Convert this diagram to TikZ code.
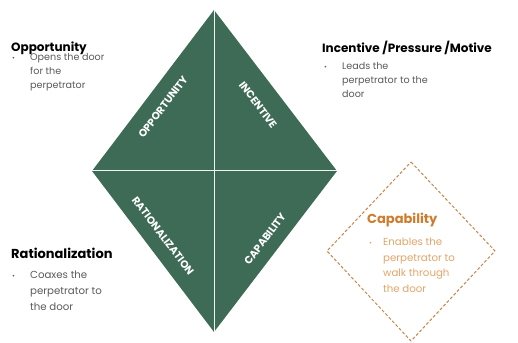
\documentclass[tikz,border=0pt]{standalone}
\usepackage{fontspec}
\setmainfont{Poppins}
\definecolor{fraudgreen}{HTML}{3E6B56}
\definecolor{capdash}{HTML}{C98548}
\definecolor{caphead}{HTML}{D07B2C}
\definecolor{captext}{HTML}{E3A468}
\definecolor{bodygray}{HTML}{5A5A5A}

\tikzset{
  heading/.style={anchor=base west, inner sep=0pt, font=\fontsize{12}{14}\selectfont\bfseries},
  bigheading/.style={heading, font=\fontsize{13}{15}\selectfont\bfseries},
  bodytext/.style={anchor=base west, inner sep=0pt, text=bodygray, font=\fontsize{9.6}{14}\selectfont},
  dot/.style={anchor=base west, inner sep=0pt, text=bodygray, font=\fontsize{7}{8}\selectfont},
  sidelabel/.style={inner sep=0pt, text=white, font=\fontsize{10.5}{12}\selectfont\bfseries},
  divider/.style={draw=white!92!fraudgreen, line width=1pt},
  capline/.style={draw=capdash, line width=1pt, dash pattern=on 3pt off 2pt}
}

\begin{document}
\begin{tikzpicture}[x=1pt,y=1pt]
  \useasboundingbox (0,0) rectangle (518,342);

  % the fraud diamond
  \coordinate (top) at (214,332);
  \coordinate (right) at (337,171);
  \coordinate (bottom) at (214,10);
  \coordinate (left) at (92,171);
  \fill[fraudgreen] (top) -- (right) -- (bottom) -- (left) -- cycle;
  \draw[divider] (top) -- (bottom);
  \draw[divider] (left) -- (right);

  \node[sidelabel, rotate=53] (oppLabel) at (163,235) {OPPORTUNITY};
  \node[sidelabel, rotate=-53] (incLabel) at (258,237) {INCENTIVE};
  \node[sidelabel, rotate=-53] (ratLabel) at (163,106) {RATIONALIZATION};
  \node[sidelabel, rotate=53] (capLabel) at (265,103) {CAPABILITY};

  % opportunity
  \node[heading] (oppHead) at (11,290) {Opportunity};
  \node[dot] (oppDot) at (12,281) {\textbullet};
  \node[bodytext] (oppBody) at (30,281)
    {\begin{tabular}[t]{@{}l@{}}Opens the door\\for the\\perpetrator\end{tabular}};

  % incentive
  \node[heading] (incHead) at (322,289) {Incentive /Pressure /Motive};
  \node[dot] (incDot) at (324,272) {\textbullet};
  \node[bodytext] (incBody) at (342,272)
    {\begin{tabular}[t]{@{}l@{}}Leads the\\perpetrator to the\\door\end{tabular}};

  % rationalization
  \node[bigheading] (ratHead) at (11,83) {Rationalization};
  \node[dot] (ratDot) at (12,63) {\textbullet};
  \node[bodytext, font=\fontsize{10.2}{15.5}\selectfont] (ratBody) at (30,63)
    {\begin{tabular}[t]{@{}l@{}}Coaxes the\\perpetrator to\\the door\end{tabular}};

  % capability, in its dashed box
  \coordinate (capTop) at (411,180);
  \coordinate (capRight) at (495,91);
  \coordinate (capBottom) at (411,1);
  \coordinate (capLeft) at (327,91);
  \draw[capline] (capTop) -- (capRight) -- (capBottom) -- (capLeft) -- cycle;
  \node[bigheading, text=caphead] (capHead) at (367,118) {Capability};
  \node[dot, text=captext] (capDot) at (369,96) {\textbullet};
  \node[bodytext, text=captext, font=\fontsize{10.2}{15.5}\selectfont] (capBody) at (383,96)
    {\begin{tabular}[t]{@{}l@{}}Enables the\\perpetrator to\\walk through\\the door\end{tabular}};
\end{tikzpicture}
\end{document}
